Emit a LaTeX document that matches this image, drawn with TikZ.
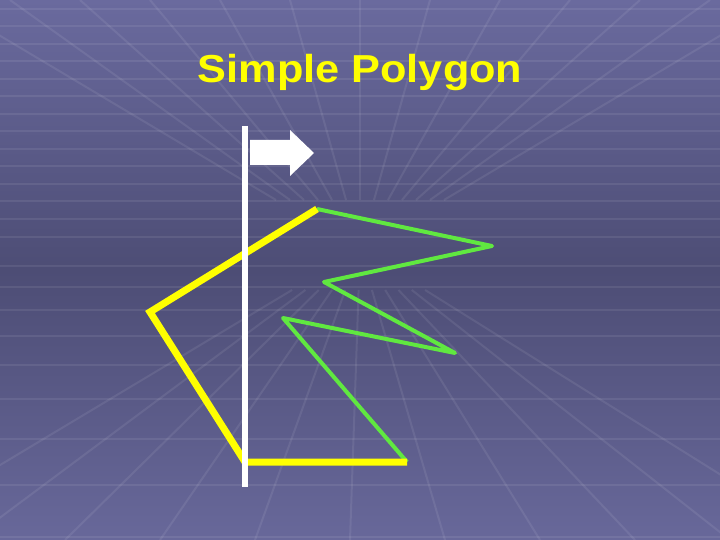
\documentclass[tikz,border=0pt]{standalone}
\usepackage{fontspec}
\setmainfont{Liberation Sans}
\definecolor{bgtop}{RGB}{106,106,158}
\definecolor{bgmid}{RGB}{77,77,117}
\definecolor{bgbot}{RGB}{104,104,154}
\definecolor{polyyellow}{RGB}{255,255,0}
\definecolor{polygreen}{RGB}{96,232,64}
\tikzset{
  gridline/.style={white, opacity=0.08, line width=2},
  chainedge/.style={polygreen, line width=4, line join=round},
  hulledge/.style={polyyellow, line width=7, line join=miter},
}
\begin{document}
\begin{tikzpicture}[x=1pt, y=-1pt]

\useasboundingbox (0,0) rectangle (720,540);
\shade[top color=bgtop, bottom color=bgbot, middle color=bgmid] (0,0) rectangle (720,540);
\begin{scope}
\clip (0,0) rectangle (720,540);
\foreach \k in {-5,...,5} {\draw[gridline] ({360+(350+95*\k-360)*0.14},290) -- (350+95*\k,540);}
\foreach \k in {-6,...,6} {\draw[gridline] ({360+70*\k*0.2},200) -- (360+70*\k,0);}
\foreach \y in {9,26.5,...,250} {\draw[gridline] (0,\y) -- (720,\y);}
\foreach \y in {266,287,310,336,365,399,439,485,537} {\draw[gridline] (0,\y) -- (720,\y);}
\end{scope}

\node[text=polyyellow, font=\fontsize{39}{46}\selectfont\bfseries, anchor=base] (title) at (360,83) {\scalebox{1.11}[1]{Simple Polygon}};

\coordinate (p1) at (317,209);
\coordinate (p2) at (492,246);
\coordinate (p3) at (324,282);
\coordinate (p4) at (455,353);
\coordinate (p5) at (283,318);
\coordinate (p6) at (407,462);
\coordinate (p7) at (245,462);
\coordinate (p8) at (150,312);
\draw[chainedge] (p1) -- (p2) -- (p3) -- (p4) -- (p5) -- (p6);
\draw[hulledge] (p6) -- (p7) -- (p8) -- (p1);

\coordinate (sweeptop) at (245,126);
\coordinate (sweepbot) at (245,487);
\draw[white, line width=6] (sweeptop) -- (sweepbot);
\fill[white] (250,140) -- (290,140) -- (290,130) -- (314,153) -- (290,176) -- (290,165) -- (250,165) -- cycle;

\end{tikzpicture}
\end{document}
